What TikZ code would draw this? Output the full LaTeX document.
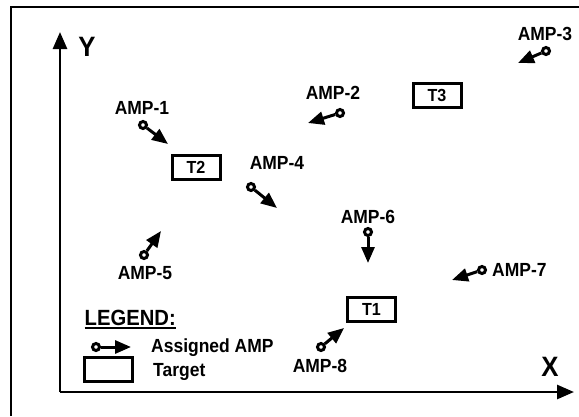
\documentclass[tikz,border=0pt]{standalone}
\usepackage{fontspec}
\setmainfont{Liberation Sans}[FakeStretch=0.92]
\usetikzlibrary{arrows.meta}
\begin{document}
\begin{tikzpicture}[x=1pt,y=-1pt,
  lbl/.style={font=\bfseries\fontsize{19}{21}\selectfont, inner sep=0pt},
  axlbl/.style={font=\bfseries\fontsize{28}{30}\selectfont, inner sep=0pt},
  tgt/.style={draw, line width=3pt, minimum width=48pt, minimum height=24pt, inner sep=0pt, font=\bfseries\fontsize{17.5}{18}\selectfont},
  amp/.style={circle, draw, line width=3pt, minimum size=7pt, inner sep=0pt},
  ampar/.style={line width=3pt, -{Triangle[length=16pt,width=13pt]}},
  axis/.style={line width=2.7pt, -{Triangle[length=17pt,width=14pt]}}]
\useasboundingbox (0,0) rectangle (579,416);
% outer frame (only left and top visible)
\draw[line width=2pt] (11,416) -- (11,7) -- (579,7);
% axes
\coordinate (O) at (60,392);
\coordinate (Ytip) at (60,32);
\coordinate (Xtip) at (574,392);
\draw[axis] (O) -- (Ytip);
\draw[axis] (O) -- (Xtip);
\node[axlbl] (Ylab) at (87,47) {Y};
\node[axlbl] (Xlab) at (550,367) {X};
% targets
\node[tgt] (T1) at (371.5,309) {T1};
\node[tgt] (T2) at (196,167) {T2};
\node[tgt] (T3) at (437,95) {T3};
% AMPs
\node[lbl] (L1) at (142,108) {AMP-1};
\node[amp] (A1) at (143,125) {};
\coordinate (P1) at (168,144);
\draw[ampar] (A1) -- (P1);

\node[lbl] (L2) at (333,93) {AMP-2};
\node[amp] (A2) at (340,113) {};
\coordinate (P2) at (308,123);
\draw[ampar] (A2) -- (P2);

\node[lbl] (L3) at (545,34) {AMP-3};
\node[amp] (A3) at (546,51) {};
\coordinate (P3) at (518,63);
\draw[ampar] (A3) -- (P3);

\node[lbl] (L4) at (277,163) {AMP-4};
\node[amp] (A4) at (251,187) {};
\coordinate (P4) at (277,208);
\draw[ampar] (A4) -- (P4);

\node[lbl] (L5) at (145,273) {AMP-5};
\node[amp] (A5) at (144,255) {};
\coordinate (P5) at (161,231);
\draw[ampar] (A5) -- (P5);

\node[lbl] (L6) at (368,217) {AMP-6};
\node[amp] (A6) at (368,232) {};
\coordinate (P6) at (368,263);
\draw[ampar] (A6) -- (P6);

\node[lbl,anchor=west] (L7) at (492,270) {AMP-7};
\node[amp] (A7) at (482,270) {};
\coordinate (P7) at (452,280);
\draw[ampar] (A7) -- (P7);

\node[lbl] (L8) at (320,366) {AMP-8};
\node[amp] (A8) at (321,347) {};
\coordinate (P8) at (344,328);
\draw[ampar] (A8) -- (P8);

% legend
\node[font=\bfseries\fontsize{22}{24}\selectfont, inner sep=0pt, anchor=west] (Leg) at (84.5,318) {LEGEND:};
\draw[line width=2pt] ([yshift=-2.5pt]Leg.south west) -- ([yshift=-2.5pt]Leg.south east);
\node[amp] (LA) at (96,347) {};
\coordinate (LP) at (131,347);
\draw[line width=3pt, -{Triangle[length=16pt,width=13pt]}] (LA) -- (LP);
\node[draw, line width=3pt, minimum width=48pt, minimum height=24pt, inner sep=0pt] (LT) at (108,369.5) {};
\node[lbl, anchor=west] (LAtext) at (151,348) {Assigned AMP};
\node[lbl, anchor=west] (LTtext) at (153,372) {Target};
\end{tikzpicture}
\end{document}
